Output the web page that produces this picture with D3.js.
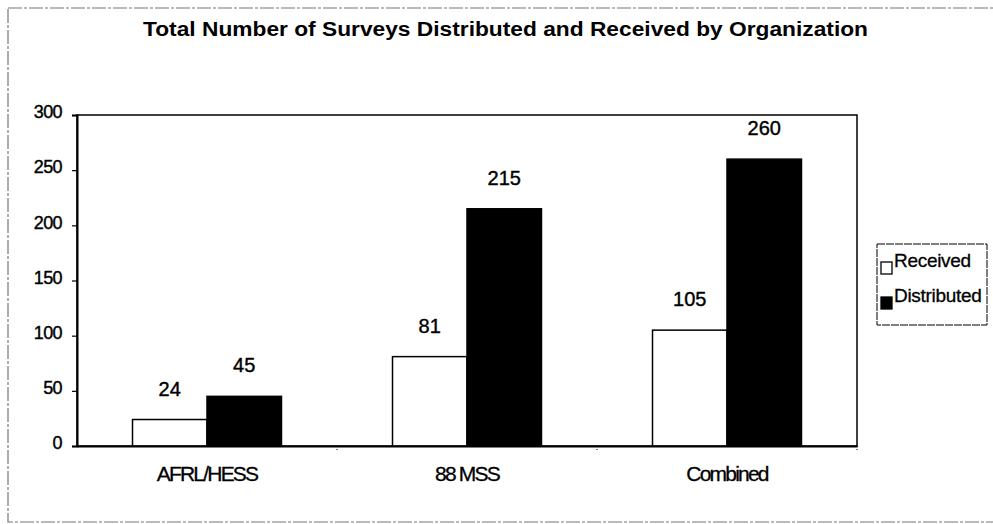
<!DOCTYPE html>
<html>
<head>
<meta charset="utf-8">
<script src="https://cdn.jsdelivr.net/npm/d3@7"></script>
<style>
  body { margin: 0; background: #fff; }
  text { font-family: "Liberation Sans", Arial, sans-serif; fill: #000; }
</style>
</head>
<body>
<script>
var w = 993;
var h = 524;

var categories = ["AFRL/HESS", "88 MSS", "Combined"];
var seriesNames = ["Received", "Distributed"];
var received = [24, 81, 105];
var distributed = [45, 215, 260];
var yTicks = [0, 50, 100, 150, 200, 250, 300];

var colors = { Received: "#fff", Distributed: "#000" };

var plot = { left: 77, top: 115, right: 857, bottom: 446 };

var svg = d3.select("body")
            .append("svg")
            .attr("width", w)
            .attr("height", h);

// outer frame of the scanned page
svg.append("rect")
   .attr("x", 8).attr("y", 8)
   .attr("width", 995).attr("height", 514)
   .attr("fill", "none")
   .attr("stroke", "#777")
   .attr("stroke-width", 1.2)
   .attr("stroke-dasharray", "14,2,3,2");

svg.append("text")
   .attr("x", (143 + 868) / 2)
   .attr("y", 36)
   .attr("text-anchor", "middle")
   .attr("font-size", "20px")
   .attr("font-weight", "bold")
   .attr("textLength", 725)
   .attr("lengthAdjust", "spacingAndGlyphs")
   .text("Total Number of Surveys Distributed and Received by Organization");

var x0 = d3.scaleBand()
           .domain(categories)
           .range([plot.left, plot.right])
           .paddingInner(0)
           .paddingOuter(0);

var x1 = d3.scaleBand()
           .domain(seriesNames)
           .range([0, x0.bandwidth() * 0.573]);

var groupOffset = (x0.bandwidth() - x0.bandwidth() * 0.573) / 2;

var y = d3.scaleLinear()
          .domain([0, 300])
          .range([plot.bottom, plot.top]);

// plot area box
svg.append("rect")
   .attr("x", plot.left).attr("y", plot.top)
   .attr("width", plot.right - plot.left)
   .attr("height", plot.bottom - plot.top)
   .attr("fill", "none")
   .attr("stroke", "#000")
   .attr("stroke-width", 1.5);

var rows = categories.map(function(c, i){
    return { cat: c, values: [
        { name: "Received", value: received[i] },
        { name: "Distributed", value: distributed[i] }
    ]};
});

var groups = svg.selectAll("g.grp")
   .data(rows)
   .enter()
   .append("g")
   .attr("class", "grp")
   .attr("transform", function(d){
       return "translate(" + (x0(d.cat) + groupOffset) + ",0)";
   });

groups.selectAll("rect")
   .data(function(d){ return d.values; })
   .enter()
   .append("rect")
   .attr("x", function(d){ return x1(d.name); })
   .attr("y", function(d){ return y(d.value); })
   .attr("width", x1.bandwidth())
   .attr("height", function(d){ return y(0) - y(d.value); })
   .attr("fill", function(d){ return colors[d.name]; })
   .attr("stroke", "#000")
   .attr("stroke-width", 1.5);

groups.selectAll("text")
   .data(function(d){ return d.values; })
   .enter()
   .append("text")
   .attr("x", function(d){ return x1(d.name) + x1.bandwidth() / 2; })
   .attr("y", function(d){ return y(d.value) - 24; })
   .attr("text-anchor", "middle")
   .attr("font-size", "20px")
   .attr("stroke", "#000")
   .attr("stroke-width", 0.4)
   .text(function(d){ return d.value; });

// y axis
var yAxis = d3.axisLeft(y)
              .tickValues(yTicks)
              .tickSize(5)
              .tickPadding(10);

var yg = svg.append("g")
   .attr("transform", "translate(" + plot.left + ",0)")
   .call(yAxis);
yg.select(".domain").attr("stroke", "#000").attr("stroke-width", 2);
yg.selectAll(".tick line").attr("stroke", "#000").attr("stroke-width", 1.2);
yg.selectAll(".tick text")
  .attr("font-size", "18px")
  .attr("font-family", "Liberation Sans, Arial, sans-serif")
  .attr("letter-spacing", "-0.6px")
  .attr("fill", "#000")
  .attr("stroke", "#000")
  .attr("stroke-width", 0.4)
  .attr("dy", "0.15em");

// x axis with category boundary ticks
var xAxis = d3.axisBottom(x0).tickSize(0).tickPadding(20);
var xg = svg.append("g")
   .attr("transform", "translate(0," + plot.bottom + ")")
   .call(xAxis);
xg.select(".domain").attr("stroke", "#000").attr("stroke-width", 2);
xg.selectAll(".tick text")
  .attr("font-size", "21px")
  .attr("font-family", "Liberation Sans, Arial, sans-serif")
  .attr("letter-spacing", "-1.8px")
  .attr("fill", "#000")
  .attr("stroke", "#000")
  .attr("stroke-width", 0.3)
  .attr("dy", "0.71em");

xg.selectAll("line.bound")
  .data(categories.slice(1).concat(["end"]))
  .enter()
  .append("line")
  .attr("class", "bound")
  .attr("x1", function(d){ return d === "end" ? plot.right : x0(d); })
  .attr("x2", function(d){ return d === "end" ? plot.right : x0(d); })
  .attr("y1", 0)
  .attr("y2", 5)
  .attr("stroke", "#000")
  .attr("stroke-width", 1)
  .attr("stroke-dasharray", "1,2");

// legend
var legend = svg.append("g").attr("transform", "translate(877,244)");
legend.append("rect")
   .attr("width", 110).attr("height", 81)
   .attr("fill", "#fff")
   .attr("stroke", "#000")
   .attr("stroke-width", 1)
   .attr("stroke-dasharray", "8,1");

var li = legend.selectAll("g.item")
   .data(seriesNames)
   .enter()
   .append("g")
   .attr("class", "item")
   .attr("transform", function(d, i){ return "translate(4," + (18 + i * 35) + ")"; });

li.append("rect")
  .attr("width", 11).attr("height", 12)
  .attr("fill", function(d){ return colors[d]; })
  .attr("stroke", "#000")
  .attr("stroke-width", 1.3);

li.append("text")
  .attr("x", 13)
  .attr("y", 5)
  .attr("font-size", "19px")
  .attr("letter-spacing", "-0.3px")
  .attr("stroke", "#000")
  .attr("stroke-width", 0.3)
  .text(function(d){ return d; });
</script>
</body>
</html>
